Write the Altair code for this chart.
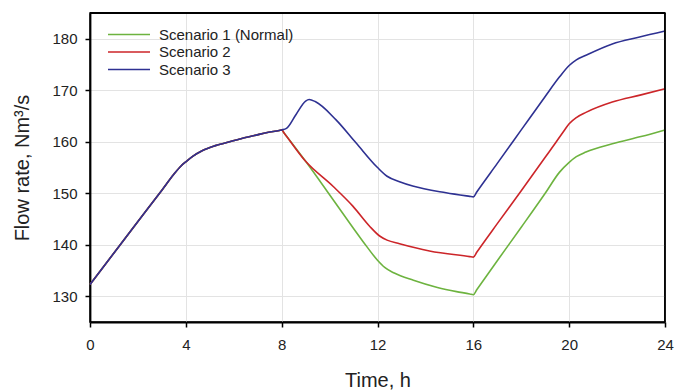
import altair as alt
import pandas as pd

# shared part (0-8 h)
common_t = [0, 1, 2, 3, 3.5, 3.8, 4.0, 4.3, 4.7, 5.2, 5.75, 6.3, 6.86, 7.4, 7.9, 8.0]
common_v = [132.3, 138.4, 144.5, 150.6, 153.7, 155.3, 156.1, 157.2, 158.3, 159.2, 159.9, 160.6, 161.2, 161.8, 162.2, 162.3]

s1_t = [8.1, 9.0, 10.2, 11.4, 12.0, 12.3, 12.7, 13.5, 14.5, 15.3, 15.85, 16.0, 16.15, 17.0, 18.0, 19.0, 19.6, 20.0, 20.3, 20.7, 21.8, 23.0, 24.0]
s1_v = [161.7, 156.2, 148.4, 140.6, 137.0, 135.6, 134.5, 133.1, 131.7, 130.9, 130.45, 130.3, 131.3, 136.9, 143.4, 150.0, 154.1, 156.0, 157.1, 158.0, 159.6, 161.0, 162.3]

s2_t = [8.1, 9.0, 10.13, 10.97, 11.67, 12.09, 12.4, 12.92, 14.17, 15.85, 16.0, 16.15, 17.0, 18.0, 19.0, 19.45, 19.75, 20.0, 20.3, 20.7, 21.8, 23.0, 24.0]
s2_v = [161.7, 156.2, 151.4, 147.5, 143.6, 141.7, 140.9, 140.2, 138.8, 137.7, 137.6, 138.6, 144.1, 150.5, 157.0, 159.9, 161.9, 163.5, 164.7, 165.7, 167.7, 169.1, 170.3]

s3_t = [8.2, 8.6, 9.0, 9.15, 9.4, 10.26, 11.1, 12.0, 12.4, 12.95, 13.47, 14.86, 15.85, 16.0, 16.15, 17.0, 18.0, 19.0, 19.6, 20.0, 20.3, 20.7, 21.8, 22.9, 24.0]
s3_v = [162.6, 165.3, 167.9, 168.2, 167.8, 164.3, 159.8, 155.0, 153.3, 152.2, 151.4, 150.1, 149.4, 149.3, 150.3, 155.8, 162.3, 168.8, 172.6, 174.8, 175.9, 176.8, 179.0, 180.3, 181.5]

names = ["Scenario 1 (Normal)", "Scenario 2", "Scenario 3"]
colors = ["#6db33f", "#cc2529", "#2e3192"]

# frame edges (domain limits)
x_max = [24]
y_max = [185]

rows = []
for name, ts, vs in zip(names, [s1_t, s2_t, s3_t], [s1_v, s2_v, s3_v]):
    for t, v in zip(common_t + ts, common_v + vs):
        rows.append({"t": t, "v": v, "s": name})
df = pd.DataFrame(rows)

FONT = "Liberation Sans"
W, H = 575, 309
xscale = alt.Scale(domain=[0, 24], nice=False)
yscale = alt.Scale(domain=[125, 185], nice=False, zero=False)

lines = alt.Chart(df).mark_line(strokeWidth=1.6, interpolate="monotone").encode(
    x=alt.X("t:Q", scale=xscale,
            axis=alt.Axis(values=[0, 4, 8, 12, 16, 20, 24], title="Time, h",
                          titlePadding=18, labelFlush=False)),
    y=alt.Y("v:Q", scale=yscale,
            axis=alt.Axis(values=[130, 140, 150, 160, 170, 180], title="Flow rate, Nm³/s",
                          titlePadding=19, labelFlush=False)),
    color=alt.Color("s:N", scale=alt.Scale(domain=names, range=colors),
                    legend=alt.Legend(title=None, orient="none", legendX=17, legendY=13,
                                      symbolType="stroke", symbolSize=1764,
                                      symbolStrokeWidth=1.6, clipHeight=17,
                                      rowPadding=0.5, labelOffset=8,
                                      labelFont=FONT, labelFontSize=15,
                                      labelColor="#222222", padding=0)),
    order=alt.Order("t:Q"),
)

top_edge = alt.Chart(pd.DataFrame({"y": y_max})).mark_rule(color="#000000", strokeWidth=1.8).encode(
    y=alt.Y("y:Q", scale=yscale))
right_edge = alt.Chart(pd.DataFrame({"x": x_max})).mark_rule(color="#000000", strokeWidth=1.8).encode(
    x=alt.X("x:Q", scale=xscale))

chart = alt.layer(lines, top_edge, right_edge).properties(
    width=W, height=H,
    autosize=alt.AutoSizeParams(type="none"),
    padding={"left": 90, "top": 13, "right": 10, "bottom": 68},
).configure_view(
    stroke="#000000", strokeWidth=1.5
).configure_axis(
    domainColor="#000000", domainWidth=1.8,
    tickColor="#000000", tickSize=5, tickWidth=1.5,
    gridColor="#e3e3e3", gridWidth=1,
    labelFont=FONT, labelFontSize=15, labelColor="#222222", labelPadding=8,
    titleFont=FONT, titleFontSize=20, titleFontWeight="normal", titleColor="#222222",
).configure_axisX(labelPadding=10)

chart.save("out.html", embed_options={"renderer": "svg", "actions": False})
